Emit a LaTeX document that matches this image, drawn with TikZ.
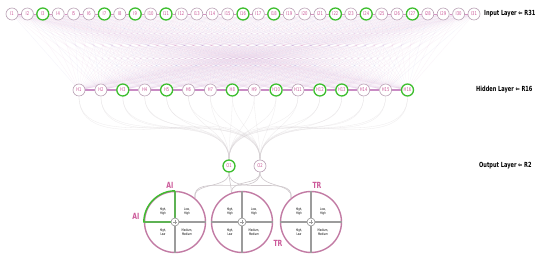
\documentclass[tikz,border=0pt]{standalone}
\usepackage{fontspec}
\newfontfamily\condfont{DejaVu Sans}[FakeStretch=0.72]
\usetikzlibrary{backgrounds,calc}
\definecolor{nodeline}{HTML}{B9A0B4}
\definecolor{nodetext}{HTML}{CC5A9A}
\definecolor{grn}{HTML}{3DBE2E}
\definecolor{ringcol}{HTML}{C27BA4}
\definecolor{crossgray}{HTML}{9C9C9C}
\definecolor{meshpink}{HTML}{D98CC8}
\definecolor{meshpurple}{HTML}{9A80D6}
\definecolor{chainpink}{HTML}{D493C2}
\definecolor{hchain}{HTML}{C98BC4}
\definecolor{curvegray}{HTML}{CFC8CC}
\tikzset{
  nd/.style={circle,draw=nodeline,fill=white,line width=0.6pt,minimum size=12pt,inner sep=0pt,
    font=\condfont\fontsize{5.2}{6}\selectfont,text=nodetext},
  gnd/.style={nd,draw=grn,line width=1.3pt},
  meshA/.style={meshpink,line width=0.2pt,opacity=0.13},
  meshB/.style={meshpurple,line width=0.2pt,opacity=0.13},
  chain/.style={chainpink,line width=0.7pt},
  hline/.style={hchain,line width=1.1pt},
  gcurve/.style={curvegray,line width=0.3pt,opacity=0.35},
  ocurve/.style={curvegray,line width=0.6pt},
  bigc/.style={circle,draw=ringcol,fill=white,line width=1.4pt,minimum size=61pt,inner sep=0pt},
  crossl/.style={crossgray,line width=1.8pt},
  ctr/.style={circle,draw=crossgray,fill=white,line width=0.7pt,minimum size=8pt,inner sep=0pt},
  qtext/.style={font=\condfont\fontsize{3.4}{3.9}\selectfont,align=center,text=black},
  tag/.style={font=\condfont\bfseries\fontsize{8.5}{9}\selectfont,text=nodetext},
  layertext/.style={font=\condfont\bfseries\fontsize{7}{8}\selectfont,text=black,anchor=west,inner sep=0pt},
  grline/.style={grn,line width=1.4pt}
}
\begin{document}
\begin{tikzpicture}[x=1pt,y=-1pt]
\useasboundingbox (0,0) rectangle (550,261);
% input layer
\foreach \i in {1,...,31}{
  \pgfmathsetmacro\xx{12+(\i-1)*15.4}
  \def\st{nd}
  \foreach \g in {3,7,9,11,16,18,22,24,27}{\ifnum\i=\g\gdef\st{gnd}\fi}
  \node[\st] (I\i) at (\xx,14) {I\i};
  \gdef\st{nd}
}
% hidden layer
\foreach \h in {1,...,16}{
  \pgfmathsetmacro\xx{79+(\h-1)*21.9}
  \def\st{nd}
  \foreach \g in {3,5,8,10,12,13,16}{\ifnum\h=\g\gdef\st{gnd}\fi}
  \node[\st] (H\h) at (\xx,90) {H\h};
  \gdef\st{nd}
}
% output layer
\node[gnd] (O1) at (229,166) {O1};
\node[nd] (O2) at (260,166) {O2};
% connections on background
\begin{scope}[on background layer]
  \fill[white] (0,0) rectangle (550,261);
  \foreach \i in {1,...,31}{
    \foreach \h in {1,...,16}{
      \pgfmathtruncatemacro\c{mod(\i*7+\h*5,4)}
      \ifnum\c=0 \draw[meshB] (I\i) -- (H\h); \else \draw[meshA] (I\i) -- (H\h); \fi
    }
  }
  \foreach \i [evaluate=\i as \j using int(\i+1)] in {1,...,30}{
    \draw[chain] (I\i) -- (I\j);
  }
  \foreach \h [evaluate=\h as \k using int(\h+1)] in {1,...,15}{
    \draw[hline] (H\h) -- (H\k);
  }
  \foreach \h in {1,...,16}{
    \draw[gcurve] (H\h) to[out=-90,in=90] (O1);
    \draw[gcurve] (H\h) to[out=-90,in=90] (O2);
  }
\end{scope}
% big circles
\node[bigc] (C1) at (175,222) {};
\node[bigc] (C2) at (242,222) {};
\node[bigc] (C3) at (311,222) {};
\begin{scope}[on background layer]
  \foreach \o in {O1,O2}{
    \draw[ocurve] (\o) to[out=-90,in=100] (C1.50);
    \draw[ocurve] (\o) to[out=-90,in=90] (C2.110);
    \draw[ocurve] (\o) to[out=-90,in=80] (C3.130);
  }
\end{scope}
\foreach \c in {C1,C2,C3}{
  \draw[crossl] (\c.west) -- (\c.east);
  \draw[crossl] (\c.north) -- (\c.south);
}
% green quadrant
\draw[grline] (C1.north) -- (C1.center) -- (C1.west)
  .. controls ($(C1.west)+(0,-17)$) and ($(C1.north)+(-17,0)$) .. (C1.north);
\foreach \c in {C1,C2,C3}{
  \node[ctr] (\c c) at (\c.center) {};
  \draw[crossgray,line width=0.4pt] ($(\c c)+(-2.2,0)$) -- ($(\c c)+(2.2,0)$);
  \draw[crossgray,line width=0.4pt] ($(\c c)+(0,-2.2)$) -- ($(\c c)+(0,2.2)$);
  \node[qtext] (\c hh) at ($(\c)+(-12,-10)$) {High,\\High};
  \node[qtext] (\c lh) at ($(\c)+(12,-10)$) {Low,\\High};
  \node[qtext] (\c hl) at ($(\c)+(-12,10)$) {High,\\Low};
  \node[qtext] (\c mm) at ($(\c)+(12,10)$) {Medium,\\Medium};
}
% tags
\node[tag] (ai1) at (170,185) {AI};
\node[tag] (ai2) at (136,216) {AI};
\node[tag] (tr1) at (317,185) {TR};
\node[tag] (tr2) at (278,243) {TR};
% layer labels
\node[layertext] (li) at (484,14) {Input Layer ⇐ R31};
\node[layertext] (lh) at (476,90) {Hidden Layer ⇐ R16};
\node[layertext] (lo) at (479,166) {Output Layer ⇐ R2};
\end{tikzpicture}
\end{document}
